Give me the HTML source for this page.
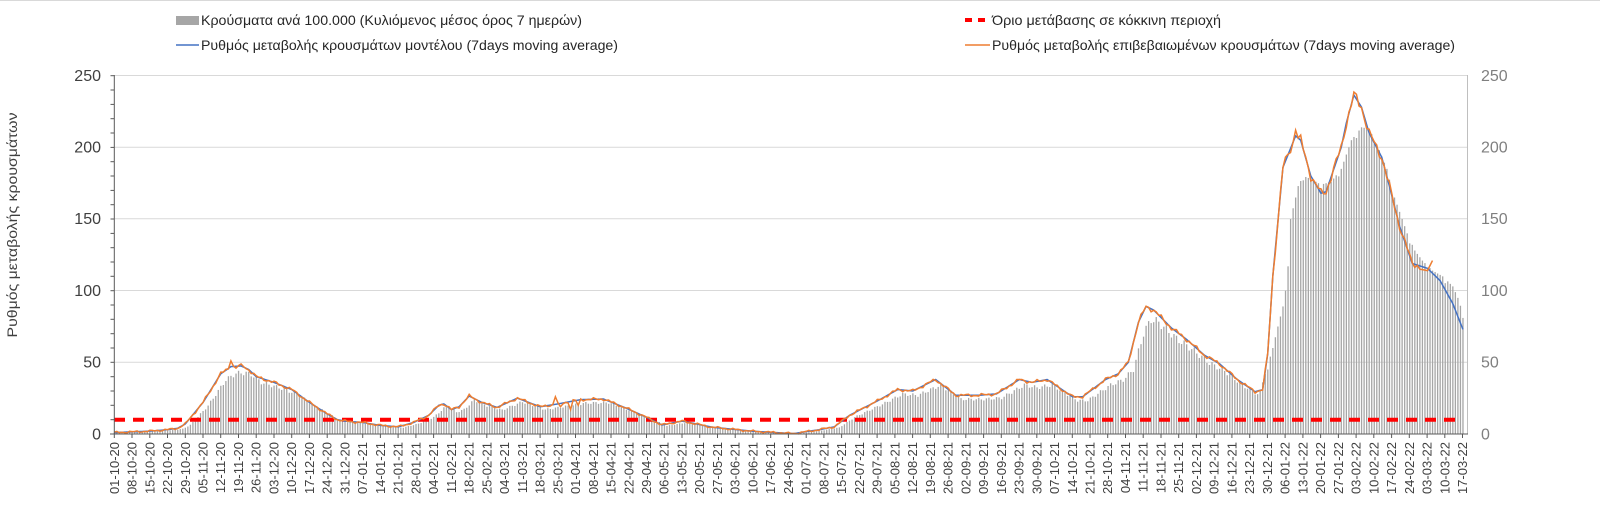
<!DOCTYPE html>
<html><head><meta charset="utf-8"><style>
html,body{margin:0;padding:0;background:#fff;}
svg{display:block;font-family:"Liberation Sans",sans-serif;}
</style></head><body>
<svg id="c" width="1600" height="516" viewBox="0 0 1600 516" xmlns="http://www.w3.org/2000/svg">
<rect x="0" y="0" width="1600" height="516" fill="#fff"/>
<line x1="0" y1="0.5" x2="1600" y2="0.5" stroke="#d9d9d9"/>
<!-- gridlines -->
<g stroke="#d9d9d9" stroke-width="1">
<line x1="114" y1="75.5" x2="1467" y2="75.5"/>
<line x1="114" y1="147.2" x2="1467" y2="147.2"/>
<line x1="114" y1="218.8" x2="1467" y2="218.8"/>
<line x1="114" y1="290.5" x2="1467" y2="290.5"/>
<line x1="114" y1="362.2" x2="1467" y2="362.2"/>
</g>
<g id="bars"></g>
<line x1="114" y1="419.7" x2="1456" y2="419.7" stroke="#ff0000" stroke-width="4" stroke-dasharray="11,8"/>
<path id="blue" fill="none" stroke="#4472c4" stroke-width="1.5"/>
<path id="orange" fill="none" stroke="#ed7d31" stroke-width="1.5"/>
<!-- axes -->
<line x1="114.3" y1="75" x2="114.3" y2="434" stroke="#595959" stroke-width="1"/>
<line x1="1467.5" y1="75" x2="1467.5" y2="434" stroke="#bfbfbf" stroke-width="1"/>
<line x1="110" y1="434" x2="1468" y2="434" stroke="#595959" stroke-width="1"/>
<g id="ticks" stroke="#595959" stroke-width="1"></g>
<g font-size="16" fill="#404040" text-anchor="end">
<text x="101" y="81">250</text>
<text x="101" y="152.5">200</text>
<text x="101" y="224">150</text>
<text x="101" y="296">100</text>
<text x="101" y="367.5">50</text>
<text x="101" y="439.5">0</text>
</g>
<g font-size="16" fill="#7f7f7f" text-anchor="start">
<text x="1481" y="81">250</text>
<text x="1481" y="152.5">200</text>
<text x="1481" y="224">150</text>
<text x="1481" y="296">100</text>
<text x="1481" y="367.5">50</text>
<text x="1481" y="439.5">0</text>
</g>
<text transform="translate(17,225) rotate(-90)" font-size="14" fill="#404040" text-anchor="middle" textLength="225" lengthAdjust="spacingAndGlyphs">Ρυθμός μεταβολής κρουσμάτων</text>
<!-- legend -->
<rect x="176" y="16" width="23" height="9" fill="#a6a6a6"/>
<text x="201" y="25" font-size="14" fill="#262626" textLength="381" lengthAdjust="spacingAndGlyphs">Κρούσματα ανά 100.000 (Κυλιόμενος μέσος όρος 7 ημερών)</text>
<line x1="176" y1="45" x2="199" y2="45" stroke="#4472c4" stroke-width="1.5"/>
<text x="201" y="50" font-size="14" fill="#262626" textLength="417" lengthAdjust="spacingAndGlyphs">Ρυθμός μεταβολής κρουσμάτων μοντέλου (7days moving average)</text>
<line x1="965" y1="20" x2="990" y2="20" stroke="#ff0000" stroke-width="4" stroke-dasharray="7,6"/>
<text x="992" y="25" font-size="14" fill="#262626" textLength="229" lengthAdjust="spacingAndGlyphs">Όριο μετάβασης σε κόκκινη περιοχή</text>
<line x1="965" y1="45" x2="990" y2="45" stroke="#ed7d31" stroke-width="1.5"/>
<text x="992" y="50" font-size="14" fill="#262626" textLength="463" lengthAdjust="spacingAndGlyphs">Ρυθμός μεταβολής επιβεβαιωμένων κρουσμάτων (7days moving average)</text>
<!-- x labels -->
<g transform="translate(118.8,442)" font-size="13" fill="#404040" text-anchor="end">
<text transform="translate(0,0) rotate(-90)">01-10-20</text>
<text transform="translate(17.74,0) rotate(-90)">08-10-20</text>
<text transform="translate(35.48,0) rotate(-90)">15-10-20</text>
<text transform="translate(53.22,0) rotate(-90)">22-10-20</text>
<text transform="translate(70.96,0) rotate(-90)">29-10-20</text>
<text transform="translate(88.7,0) rotate(-90)">05-11-20</text>
<text transform="translate(106.44,0) rotate(-90)">12-11-20</text>
<text transform="translate(124.18,0) rotate(-90)">19-11-20</text>
<text transform="translate(141.92,0) rotate(-90)">26-11-20</text>
<text transform="translate(159.66,0) rotate(-90)">03-12-20</text>
<text transform="translate(177.4,0) rotate(-90)">10-12-20</text>
<text transform="translate(195.14,0) rotate(-90)">17-12-20</text>
<text transform="translate(212.88,0) rotate(-90)">24-12-20</text>
<text transform="translate(230.62,0) rotate(-90)">31-12-20</text>
<text transform="translate(248.36,0) rotate(-90)">07-01-21</text>
<text transform="translate(266.1,0) rotate(-90)">14-01-21</text>
<text transform="translate(283.84,0) rotate(-90)">21-01-21</text>
<text transform="translate(301.58,0) rotate(-90)">28-01-21</text>
<text transform="translate(319.32,0) rotate(-90)">04-02-21</text>
<text transform="translate(337.06,0) rotate(-90)">11-02-21</text>
<text transform="translate(354.8,0) rotate(-90)">18-02-21</text>
<text transform="translate(372.54,0) rotate(-90)">25-02-21</text>
<text transform="translate(390.28,0) rotate(-90)">04-03-21</text>
<text transform="translate(408.02,0) rotate(-90)">11-03-21</text>
<text transform="translate(425.76,0) rotate(-90)">18-03-21</text>
<text transform="translate(443.5,0) rotate(-90)">25-03-21</text>
<text transform="translate(461.24,0) rotate(-90)">01-04-21</text>
<text transform="translate(478.98,0) rotate(-90)">08-04-21</text>
<text transform="translate(496.72,0) rotate(-90)">15-04-21</text>
<text transform="translate(514.46,0) rotate(-90)">22-04-21</text>
<text transform="translate(532.2,0) rotate(-90)">29-04-21</text>
<text transform="translate(549.94,0) rotate(-90)">06-05-21</text>
<text transform="translate(567.68,0) rotate(-90)">13-05-21</text>
<text transform="translate(585.42,0) rotate(-90)">20-05-21</text>
<text transform="translate(603.16,0) rotate(-90)">27-05-21</text>
<text transform="translate(620.9,0) rotate(-90)">03-06-21</text>
<text transform="translate(638.64,0) rotate(-90)">10-06-21</text>
<text transform="translate(656.38,0) rotate(-90)">17-06-21</text>
<text transform="translate(674.12,0) rotate(-90)">24-06-21</text>
<text transform="translate(691.86,0) rotate(-90)">01-07-21</text>
<text transform="translate(709.6,0) rotate(-90)">08-07-21</text>
<text transform="translate(727.34,0) rotate(-90)">15-07-21</text>
<text transform="translate(745.08,0) rotate(-90)">22-07-21</text>
<text transform="translate(762.82,0) rotate(-90)">29-07-21</text>
<text transform="translate(780.56,0) rotate(-90)">05-08-21</text>
<text transform="translate(798.3,0) rotate(-90)">12-08-21</text>
<text transform="translate(816.04,0) rotate(-90)">19-08-21</text>
<text transform="translate(833.78,0) rotate(-90)">26-08-21</text>
<text transform="translate(851.52,0) rotate(-90)">02-09-21</text>
<text transform="translate(869.26,0) rotate(-90)">09-09-21</text>
<text transform="translate(887,0) rotate(-90)">16-09-21</text>
<text transform="translate(904.74,0) rotate(-90)">23-09-21</text>
<text transform="translate(922.48,0) rotate(-90)">30-09-21</text>
<text transform="translate(940.22,0) rotate(-90)">07-10-21</text>
<text transform="translate(957.96,0) rotate(-90)">14-10-21</text>
<text transform="translate(975.7,0) rotate(-90)">21-10-21</text>
<text transform="translate(993.44,0) rotate(-90)">28-10-21</text>
<text transform="translate(1011.18,0) rotate(-90)">04-11-21</text>
<text transform="translate(1028.92,0) rotate(-90)">11-11-21</text>
<text transform="translate(1046.66,0) rotate(-90)">18-11-21</text>
<text transform="translate(1064.4,0) rotate(-90)">25-11-21</text>
<text transform="translate(1082.14,0) rotate(-90)">02-12-21</text>
<text transform="translate(1099.88,0) rotate(-90)">09-12-21</text>
<text transform="translate(1117.62,0) rotate(-90)">16-12-21</text>
<text transform="translate(1135.36,0) rotate(-90)">23-12-21</text>
<text transform="translate(1153.1,0) rotate(-90)">30-12-21</text>
<text transform="translate(1170.84,0) rotate(-90)">06-01-22</text>
<text transform="translate(1188.58,0) rotate(-90)">13-01-22</text>
<text transform="translate(1206.32,0) rotate(-90)">20-01-22</text>
<text transform="translate(1224.06,0) rotate(-90)">27-01-22</text>
<text transform="translate(1241.8,0) rotate(-90)">03-02-22</text>
<text transform="translate(1259.54,0) rotate(-90)">10-02-22</text>
<text transform="translate(1277.28,0) rotate(-90)">17-02-22</text>
<text transform="translate(1295.02,0) rotate(-90)">24-02-22</text>
<text transform="translate(1312.76,0) rotate(-90)">03-03-22</text>
<text transform="translate(1330.5,0) rotate(-90)">10-03-22</text>
<text transform="translate(1348.24,0) rotate(-90)">17-03-22</text>
</g>
</svg>
<script>
(function(){
var NS="http://www.w3.org/2000/svg";
function X(d){return 114.3+d*2.535;}
function Y(v){return 434-v*1.4332;}
var K=[[0,1],[7,1.5],[14,2],[21,3],[25,4],[28,7],[35,22],[42,42],[46,47],[50,47.5],[53,45],[56,40],[63,36],[70,31],[77,22],[84,14],[88,10],[91,9],[98,8],[105,6],[112,5],[118,8],[124,13],[128,20],[130,21],[133,17],[136,19],[140,26.5],[145,22],[151,18.6],[159,25],[168,19],[175,21],[184,24],[193,24.4],[202,18],[210,11.6],[216,6.3],[224,9],[236,4.7],[252,1.9],[268,0.3],[278,3],[284,5],[290,13],[302,24],[309,31],[315,30],[324,38],[332,27],[341,27],[348,28],[357,38],[362,36],[368,38],[373,32],[378,26],[382,26],[391,38],[396,42],[400,50],[404,78],[407,89],[410,86.5],[417,74],[423,66],[430,55],[436,49],[443,38],[450,29.5],[453,31],[455,56],[457,110],[461,186],[466,208],[468,205],[472,180],[476,168],[478,169],[484,200],[486,217],[489,236.5],[492,228],[495,210],[500,193],[503,173],[507,145],[512,119],[518,115.6],[523,107],[528,91],[532,73]];
function interp(A,d){if(d<=A[0][0])return A[0][1];for(var i=1;i<A.length;i++){if(d<=A[i][0]){var a=A[i-1],b=A[i];return a[1]+(b[1]-a[1])*(d-a[0])/(b[0]-a[0]);}}return A[A.length-1][1];}
function blue(d){return interp(K,d);}
var B=[[452,30],[455,48],[457,60],[459,75],[461,89],[463,117],[464,150],[466,165],[467,173],[469,180],[472,178],[476,174],[480,176],[484,185],[488,205],[492,214],[495,213],[499,198],[502,185],[504,170],[507,155],[510,140],[513,128],[516,121],[520,114],[524,110],[528,103],[530,95],[532,84]];
function bar(d){
  if(d>=452) return interp(B,d)+((d%7==0)?-3:0);
  var v=blue(Math.max(0,d-2))*0.9;
  var n=Math.sin(d*1.7)*0.04*v;
  return Math.max(0,v+n);
}
var g=document.getElementById('bars'),s="";
for(var d=0;d<=532;d++){
  var v=bar(d),x=X(d);
  s+='<rect x="'+(x-0.6).toFixed(2)+'" y="'+Y(v).toFixed(2)+'" width="1.3" height="'+(v*1.4332).toFixed(2)+'" fill="#a6a6a6"/>';
}
g.innerHTML=s;
var p="";
for(var d=0;d<=532;d+=0.5){p+=(d?"L":"M")+X(d).toFixed(2)+","+Y(blue(d)).toFixed(2);}
document.getElementById('blue').setAttribute('d',p);
var O=[[46,51],[48,46],[51,47],[174,26],[176,19],[180,17],[183,20],[466,212],[515,115],[518,114],[520,121]];
var q="";
for(var d=0;d<=520;d++){
  var v=blue(d);
  var n=(Math.sin(d*2.3)+Math.sin(d*0.9+1))*0.5*(0.8+0.015*v);
  v+=n;
  for(var i=0;i<O.length;i++){if(O[i][0]==d)v=O[i][1];}
  if(d>=515)v=interp([[515,115],[518,114],[520,121]],d);
  q+=(d?"L":"M")+X(d).toFixed(2)+","+Y(Math.max(0,v)).toFixed(2);
}
document.getElementById('orange').setAttribute('d',q);
var t="";
for(var i=0;i<=25;i++){var y=434-i*14.332;t+='<line x1="110.5" y1="'+y.toFixed(1)+'" x2="114.3" y2="'+y.toFixed(1)+'"/>';}
for(var i=0;i<=76;i++){var x=114.3+i*17.74;t+='<line x1="'+x.toFixed(1)+'" y1="434" x2="'+x.toFixed(1)+'" y2="438"/>';}
document.getElementById('ticks').innerHTML=t;
})();
</script>
</body></html>
